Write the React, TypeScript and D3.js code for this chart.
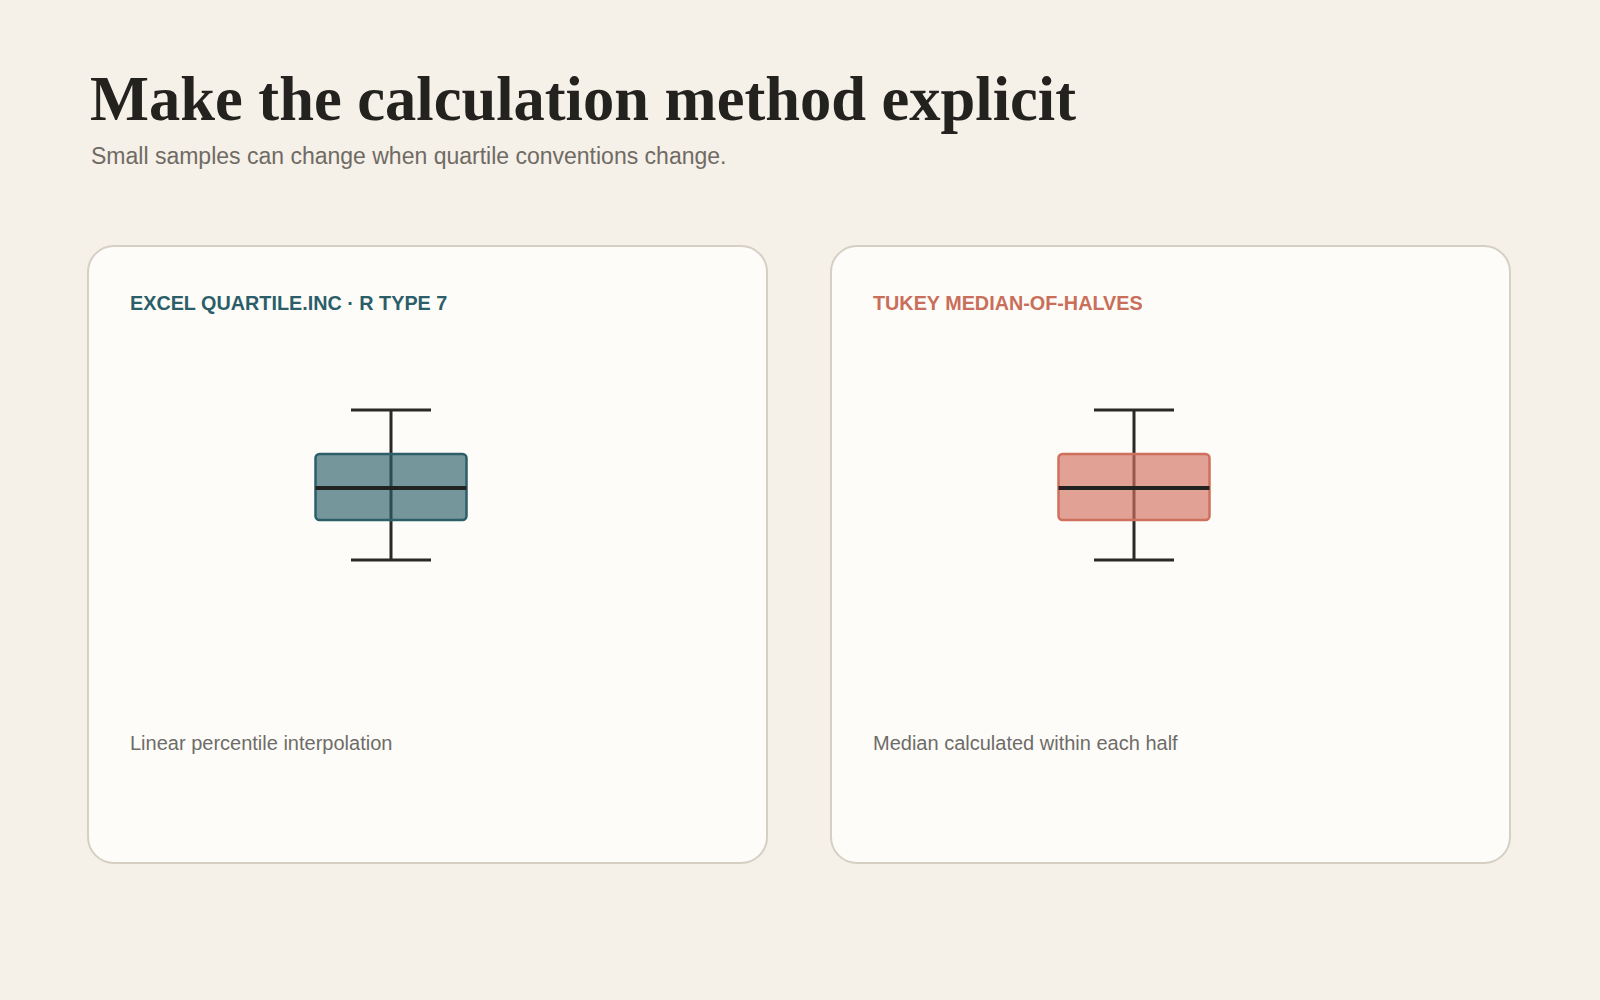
import React from "react";
import * as d3 from "d3";

const title = "Make the calculation method explicit";
const subtitle = "Small samples can change when quartile conventions change.";
const methods = ["EXCEL QUARTILE.INC · R TYPE 7", "TUKEY MEDIAN-OF-HALVES"];
const notes = ["Linear percentile interpolation", "Median calculated within each half"];
const mins = [1, 1];
const q1s = [3.67, 3.67];
const medians = [5.8, 5.8];
const q3s = [8.07, 8.07];
const maxs = [11, 11];
const strokeColors = ["#2c5f69", "#cf705d"];
const fillColors = ["#2c5f69", "#d2705e"];
const headerColors = ["#2b5e69", "#c96e5a"];

const W = 1600;
const H = 1000;

export default function App() {
  const cardW = 679;
  const cardH = 617;
  const cardTop = 246;
  const xCard = d3.scalePoint<string>().domain(methods).range([88, 831]);
  const y = d3.scaleLinear().domain([0, 12]).range([575, 395]);
  const boxW = 151;
  const capW = 80;
  const centerOff = 303;

  return (
    <svg width={W} height={H} style={{ position: "absolute", left: 0, top: 0, display: "block" }}>
      <rect x={0} y={0} width={W} height={H} fill="#f5f0e8" />
      <text x={90} y={120} fontFamily="'Liberation Serif', Georgia, serif" fontWeight={700} fontSize={62.5} fill="#23221f">
        {title}
      </text>
      <text x={91} y={164} fontFamily="'Liberation Sans', Arial, sans-serif" fontSize={23} fill="#6f6b64">
        {subtitle}
      </text>
      {methods.map((m, i) => {
        const x0 = xCard(m) as number;
        const cx = x0 + centerOff;
        return (
          <g key={m}>
            <rect x={x0} y={cardTop} width={cardW} height={cardH} rx={26} ry={26} fill="#fdfcf8" stroke="#d5cfc4" strokeWidth={2} />
            <text x={x0 + 42} y={310} fontFamily="'Liberation Sans', Arial, sans-serif" fontWeight={700} fontSize={19.8} fill={headerColors[i]}>
              {m}
            </text>
            <line x1={cx} x2={cx} y1={y(maxs[i])} y2={y(mins[i])} stroke="#2a2927" strokeWidth={3} />
            <line x1={cx - capW / 2} x2={cx + capW / 2} y1={y(maxs[i])} y2={y(maxs[i])} stroke="#2a2927" strokeWidth={3} />
            <line x1={cx - capW / 2} x2={cx + capW / 2} y1={y(mins[i])} y2={y(mins[i])} stroke="#2a2927" strokeWidth={3} />
            <rect
              x={cx - boxW / 2}
              y={y(q3s[i])}
              width={boxW}
              height={y(q1s[i]) - y(q3s[i])}
              rx={4}
              ry={4}
              fill={fillColors[i]}
              fillOpacity={0.65}
              stroke={strokeColors[i]}
              strokeWidth={2.5}
            />
            <line x1={cx - boxW / 2} x2={cx + boxW / 2} y1={y(medians[i])} y2={y(medians[i])} stroke="#222220" strokeWidth={4} />
            <text x={x0 + 42} y={750} fontFamily="'Liberation Sans', Arial, sans-serif" fontSize={20} fill="#6e6c68">
              {notes[i]}
            </text>
          </g>
        );
      })}
    </svg>
  );
}
